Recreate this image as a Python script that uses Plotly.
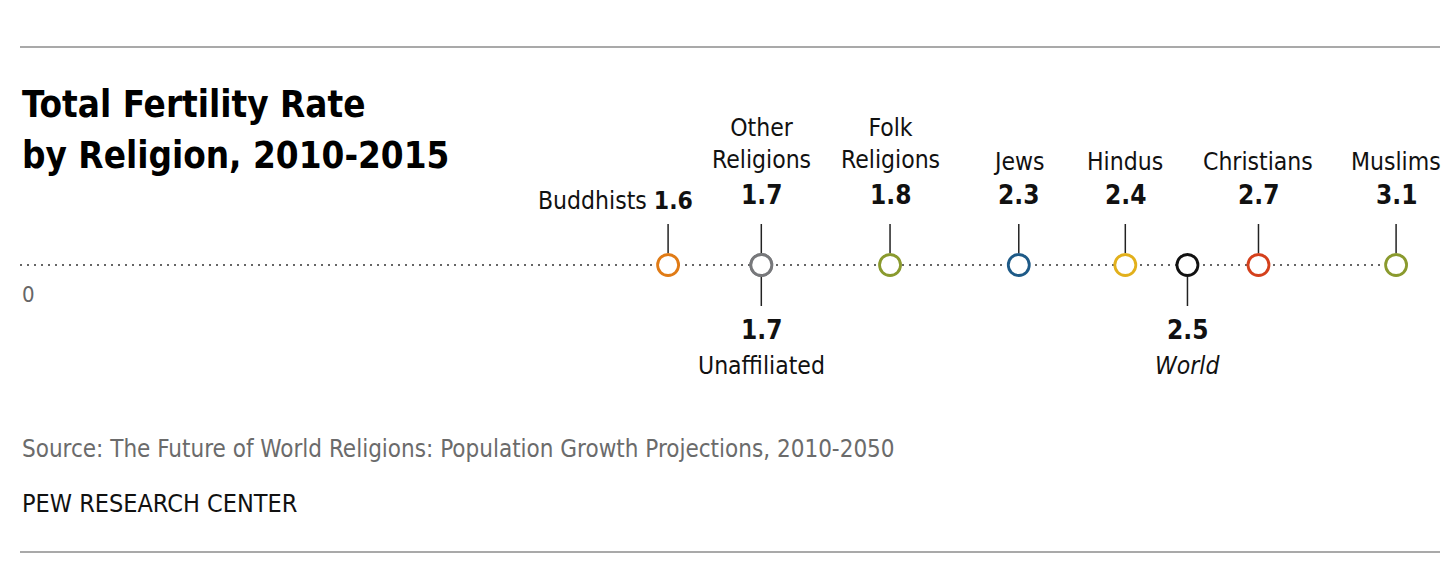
import plotly.graph_objects as go

# Total fertility rate by religion, 2010-2015
groups = ["Buddhists", "Unaffiliated", "Other Religions", "Folk Religions",
          "Jews", "Hindus", "World", "Christians", "Muslims"]
tfr_labels = ["1.6", "1.7", "1.7", "1.8", "2.3", "2.4", "2.5", "2.7", "3.1"]
# where the marks sit on the scale
tfr_plotted = [1.46, 1.67, 1.67, 1.96, 2.25, 2.49, 2.63, 2.79, 3.10]
label_side = ["left", "below", "above", "above", "above", "above", "below", "above", "above"]
colors = ["#E07B16", "#77787B", "#77787B", "#8A9A2E", "#1E5A87",
          "#E2B01C", "#111111", "#D4401C", "#8A9A2E"]

FONT = "Liberation Sans Narrow, DejaVu Sans Condensed, Arial Narrow, sans-serif"
# the page adds an 8px body margin, so the figure is drawn slightly smaller
W, H = 1440, 571
PX_PER_UNIT = 443.9
X0_PX = 12   # x of zero inside the figure
Y0_PX = 257  # y of the axis line from the top of the figure

fig = go.Figure()

# dotted base line from 0 to the highest value
fig.add_trace(go.Scatter(
    x=[0, max(tfr_plotted)], y=[0, 0], mode="lines",
    line=dict(color="#666666", width=2.2, dash="2px,5px"),
    hoverinfo="skip", showlegend=False))

shapes = []
annotations = []

for name, lab, xv, side, col in zip(groups, tfr_labels, tfr_plotted, label_side, colors):
    if side == "below":
        shapes.append(dict(type="line", xref="x", yref="y", x0=xv, x1=xv, y0=-12, y1=-41,
                           line=dict(color="#222222", width=1.5)))
        annotations.append(dict(x=xv, y=-65, text="<b>%s</b>" % lab, showarrow=False,
                                font=dict(size=26, color="#111111", family=FONT)))
        txt = "<i>%s</i>" % name if name == "World" else name
        annotations.append(dict(x=xv, y=-100, text=txt, showarrow=False,
                                font=dict(size=24.5, color="#111111", family=FONT)))
    elif side == "above":
        shapes.append(dict(type="line", xref="x", yref="y", x0=xv, x1=xv, y0=12, y1=41,
                           line=dict(color="#222222", width=1.5)))
        annotations.append(dict(x=xv, y=70, text="<b>%s</b>" % lab, showarrow=False,
                                font=dict(size=26, color="#111111", family=FONT)))
        if " " in name:
            annotations.append(dict(x=xv, y=122, text=name.replace(" ", "<br>"), showarrow=False,
                                    font=dict(size=24.5, color="#111111", family=FONT)))
        else:
            annotations.append(dict(x=xv, y=104, text=name, showarrow=False,
                                    font=dict(size=24.5, color="#111111", family=FONT)))
    else:
        shapes.append(dict(type="line", xref="x", yref="y", x0=xv, x1=xv, y0=12, y1=41,
                           line=dict(color="#222222", width=1.5)))
        annotations.append(dict(x=xv, y=65, xanchor="right", xshift=27,
                                text="%s <b>%s</b>" % (name, lab), showarrow=False,
                                font=dict(size=24.5, color="#111111", family=FONT)))

fig.add_trace(go.Scatter(
    x=tfr_plotted, y=[0] * len(tfr_plotted), mode="markers",
    marker=dict(size=21, color="white", line=dict(color=colors, width=2.8)),
    text=groups, hoverinfo="text", showlegend=False))

# zero label
annotations.append(dict(x=0, y=-29, xanchor="left", text="0", showarrow=False,
                        font=dict(size=22, color="#666666", family=FONT)))

# title, source and credit
annotations.append(dict(xref="paper", x=X0_PX / W, y=161, xanchor="left", showarrow=False,
                        text="<b>Total Fertility Rate</b>",
                        font=dict(size=36.5, color="#000000", family=FONT)))
annotations.append(dict(xref="paper", x=X0_PX / W, y=110, xanchor="left", showarrow=False,
                        text="<b>by Religion, 2010-2015</b>",
                        font=dict(size=36.5, color="#000000", family=FONT)))
annotations.append(dict(xref="paper", x=X0_PX / W, y=-184, xanchor="left", showarrow=False,
                        text="Source: The Future of World Religions: Population Growth Projections, 2010-2050",
                        font=dict(size=24, color="#6b6b6b", family=FONT)))
annotations.append(dict(xref="paper", x=X0_PX / W, y=-238, xanchor="left", showarrow=False,
                        text="PEW RESEARCH CENTER",
                        font=dict(size=25, color="#111111", family=FONT)))

# top and bottom rules
for yy in (218, -287):
    shapes.append(dict(type="line", xref="paper", yref="y", x0=X0_PX / W, x1=1432 / W,
                       y0=yy, y1=yy, line=dict(color="#555555", width=1.2)))

x_lo = -X0_PX / PX_PER_UNIT
x_hi = x_lo + W / PX_PER_UNIT

fig.update_layout(
    width=W, height=H,
    margin=dict(l=0, r=0, t=0, b=0),
    paper_bgcolor="white", plot_bgcolor="white",
    xaxis=dict(range=[x_lo, x_hi], visible=False, fixedrange=True),
    yaxis=dict(range=[Y0_PX - H, Y0_PX], visible=False, fixedrange=True),
    shapes=shapes,
    annotations=annotations,
    showlegend=False,
)

fig.write_html("out.html")
